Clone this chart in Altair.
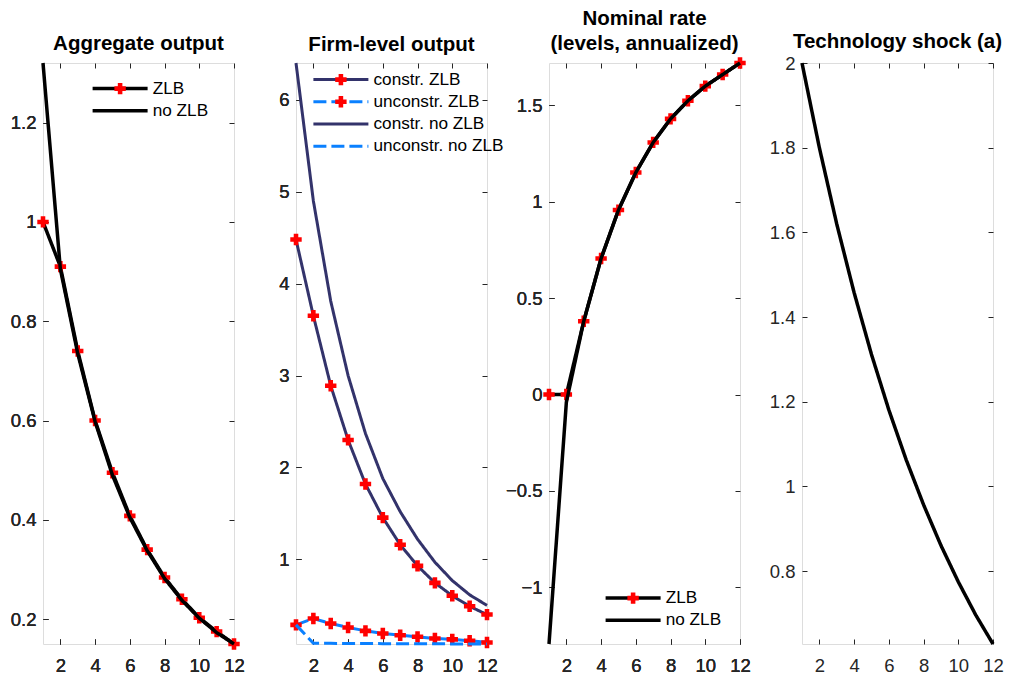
import altair as alt
import pandas as pd

FONT = "Liberation Sans"
t = list(range(1, 13))

# Panel 1: Aggregate output
agg_zlb = [1.0, 0.91, 0.74, 0.60, 0.495, 0.408, 0.34, 0.284, 0.24, 0.203, 0.175, 0.15]
agg_nozlb = [1.32, 0.905, 0.735, 0.598, 0.49, 0.405, 0.338, 0.282, 0.238, 0.202, 0.173, 0.15]

# Panel 2: Firm-level output
firm_c_zlb = [4.48, 3.65, 2.89, 2.30, 1.82, 1.455, 1.16, 0.93, 0.745, 0.605, 0.49, 0.40]
firm_u_zlb = [0.288, 0.357, 0.303, 0.26, 0.223, 0.194, 0.176, 0.158, 0.14, 0.13, 0.115, 0.097]
firm_c_nozlb = [6.40, 4.90, 3.81, 3.00, 2.37, 1.88, 1.52, 1.22, 0.97, 0.77, 0.615, 0.50]
firm_u_nozlb = [0.288, 0.088, 0.087, 0.086, 0.085, 0.084, 0.084, 0.083, 0.082, 0.081, 0.081, 0.08]

# Panel 3: Nominal rate
rate_zlb = [0.0, 0.0, 0.38, 0.706, 0.957, 1.152, 1.308, 1.43, 1.524, 1.60, 1.66, 1.72]
rate_nozlb = [-1.294, -0.04, 0.38, 0.706, 0.957, 1.152, 1.308, 1.43, 1.524, 1.60, 1.66, 1.72]

# Panel 4: Technology shock
tech = [2.0, 1.80, 1.62, 1.458, 1.312, 1.181, 1.063, 0.957, 0.861, 0.775, 0.697, 0.628]

x_ticks = [2, 4, 6, 8, 10, 12]
y1_ticks = [0.2, 0.4, 0.6, 0.8, 1.0, 1.2]
y2_ticks = [1, 2, 3, 4, 5, 6]
y3_ticks = [-1, -0.5, 0, 0.5, 1, 1.5]
y4_ticks = [0.8, 1.0, 1.2, 1.4, 1.6, 1.8, 2.0]

W, H = 191, 581
AX = "#262626"
TICK_FS = 18.5
LEG_FS = 17.2


def long_df(series_dict, zlb_names):
    rows = []
    for name, vals in series_dict.items():
        for ti, v in zip(t, vals):
            rows.append({"t": ti, "value": v, "series": name,
                         "mk": name if name in zlb_names else None,
                         "zlb": name in zlb_names})
    return pd.DataFrame(rows)


def left_axis(vals):
    return alt.Axis(values=vals, orient="left", format="~g", tickSize=5, offset=-5,
                    domain=False, grid=False, labelPadding=7, labelFontSize=TICK_FS,
                    labelFont=FONT, labelColor=AX, tickColor=AX, tickWidth=1,
                    title=None, labelFlush=False)


def bottom_axis():
    return alt.Axis(values=x_ticks, orient="bottom", format="~g", tickSize=5, offset=-5,
                    domain=False, grid=False, labelPadding=12, labelFontSize=TICK_FS,
                    labelFont=FONT, labelColor=AX, tickColor=AX, tickWidth=1,
                    title=None, labelFlush=False)


def mirror_axis(vals, orient):
    return alt.Axis(values=vals, orient=orient, tickSize=5, offset=-5, domain=False,
                    grid=False, labels=False, tickColor=AX, tickWidth=1, title=None)


def panel(df, names, colors, dashes, yticks, title, legend_pos, line_w):
    lo = float(df["value"].min())
    hi = float(df["value"].max())
    xs = alt.Scale(domain=[1, 12], nice=False, zero=False)
    ys = alt.Scale(domain=[lo, hi], nice=False, zero=False)
    zlb_names = [n for n in names if "ZLB" in n and "no ZLB" not in n]

    layers = []
    if legend_pos is not None:
        lx, ly = legend_pos
        legA = alt.Legend(orient="none", legendX=lx, legendY=ly, title=None,
                          symbolType="M-5,0H5", symbolSize=121, symbolStrokeWidth=line_w,
                          labelFontSize=LEG_FS, labelFont=FONT, labelColor="black",
                          labelOffset=24, rowPadding=4.2, padding=0, labelLimit=300)
        legB = alt.Legend(orient="none", legendX=lx, legendY=ly, title=None,
                          symbolSize=130, symbolFillColor="red", symbolStrokeColor="red",
                          symbolStrokeWidth=0, labelFontSize=LEG_FS, labelFont=FONT,
                          labelOpacity=0, labelOffset=24, rowPadding=4.2, padding=0,
                          labelLimit=300)
    else:
        legA = None
        legB = None

    color = alt.Color("series:N", scale=alt.Scale(domain=names, range=colors),
                      sort=names, legend=legA)
    dash = alt.StrokeDash("series:N", scale=alt.Scale(domain=names, range=dashes),
                          sort=names, legend=legA)

    base = alt.Chart(df)
    x = alt.X("t:Q", scale=xs, axis=bottom_axis())
    y = alt.Y("value:Q", scale=ys, axis=left_axis(yticks))

    zdf = df[df["zlb"]]
    ndf = df[~df["zlb"]]

    if len(zdf):
        layers.append(alt.Chart(zdf).mark_line(strokeWidth=line_w, strokeCap="butt").encode(
            x=x, y=y, color=color, strokeDash=dash, detail="series:N"))
        layers.append(alt.Chart(zdf).mark_point(shape="cross", filled=True, color="red",
                                                 size=130, opacity=1, strokeWidth=0).encode(
            x=x, y=y,
            shape=alt.Shape("mk:N", scale=alt.Scale(domain=zlb_names,
                                                    range=["cross"] * len(zlb_names)),
                            sort=zlb_names, legend=legB)))
    layers.append(alt.Chart(ndf).mark_line(strokeWidth=line_w, strokeCap="butt").encode(
        x=x, y=y, color=color, strokeDash=dash, detail="series:N"))
    # mirrored ticks on top and right
    layers.append(base.mark_line(opacity=0).encode(
        x=alt.X("t:Q", scale=xs, axis=mirror_axis(x_ticks, "top")),
        y=alt.Y("value:Q", scale=ys, axis=mirror_axis(yticks, "right"))))

    return alt.layer(*layers).properties(
        width=W, height=H,
        title=alt.TitleParams(title, fontSize=20.5, fontWeight="bold", font=FONT,
                              color="black", offset=2, anchor="middle", lineHeight=25))


p1 = panel(long_df({"ZLB": agg_zlb, "no ZLB": agg_nozlb}, ["ZLB"]),
           ["ZLB", "no ZLB"], ["black", "black"], [[1, 0], [1, 0]],
           y1_ticks, "Aggregate output", (68.5, 17), 3.5)

names2 = ["constr. ZLB", "unconstr. ZLB", "constr. no ZLB", "unconstr. no ZLB"]
p2 = panel(long_df({"constr. ZLB": firm_c_zlb, "unconstr. ZLB": firm_u_zlb,
                    "constr. no ZLB": firm_c_nozlb, "unconstr. no ZLB": firm_u_nozlb},
                   ["constr. ZLB", "unconstr. ZLB"]),
           names2, ["#33336b", "#0a80ff", "#33336b", "#0a80ff"],
           [[1, 0], [13, 5], [1, 0], [13, 5]],
           y2_ticks, "Firm-level output", (36.3, 8), 3)

p3 = panel(long_df({"ZLB": rate_zlb, "no ZLB": rate_nozlb}, ["ZLB"]),
           ["ZLB", "no ZLB"], ["black", "black"], [[1, 0], [1, 0]],
           y3_ticks, ["Nominal rate", "(levels, annualized)"], (75.5, 526.5), 3.5)

p4 = panel(long_df({"a": tech}, []),
           ["a"], ["black"], [[1, 0]],
           y4_ticks, "Technology shock (a)", None, 3.5)

chart = alt.hconcat(p1, p2, p3, p4, spacing=62, bounds="flush").resolve_scale(
    color="independent", strokeDash="independent", shape="independent"
).properties(
    padding={"left": 9, "top": 8, "right": 5, "bottom": 5}
).configure_view(stroke=AX, strokeWidth=1).configure(background="white")

chart.save("out.html", embed_options={"renderer": "svg", "actions": False})
